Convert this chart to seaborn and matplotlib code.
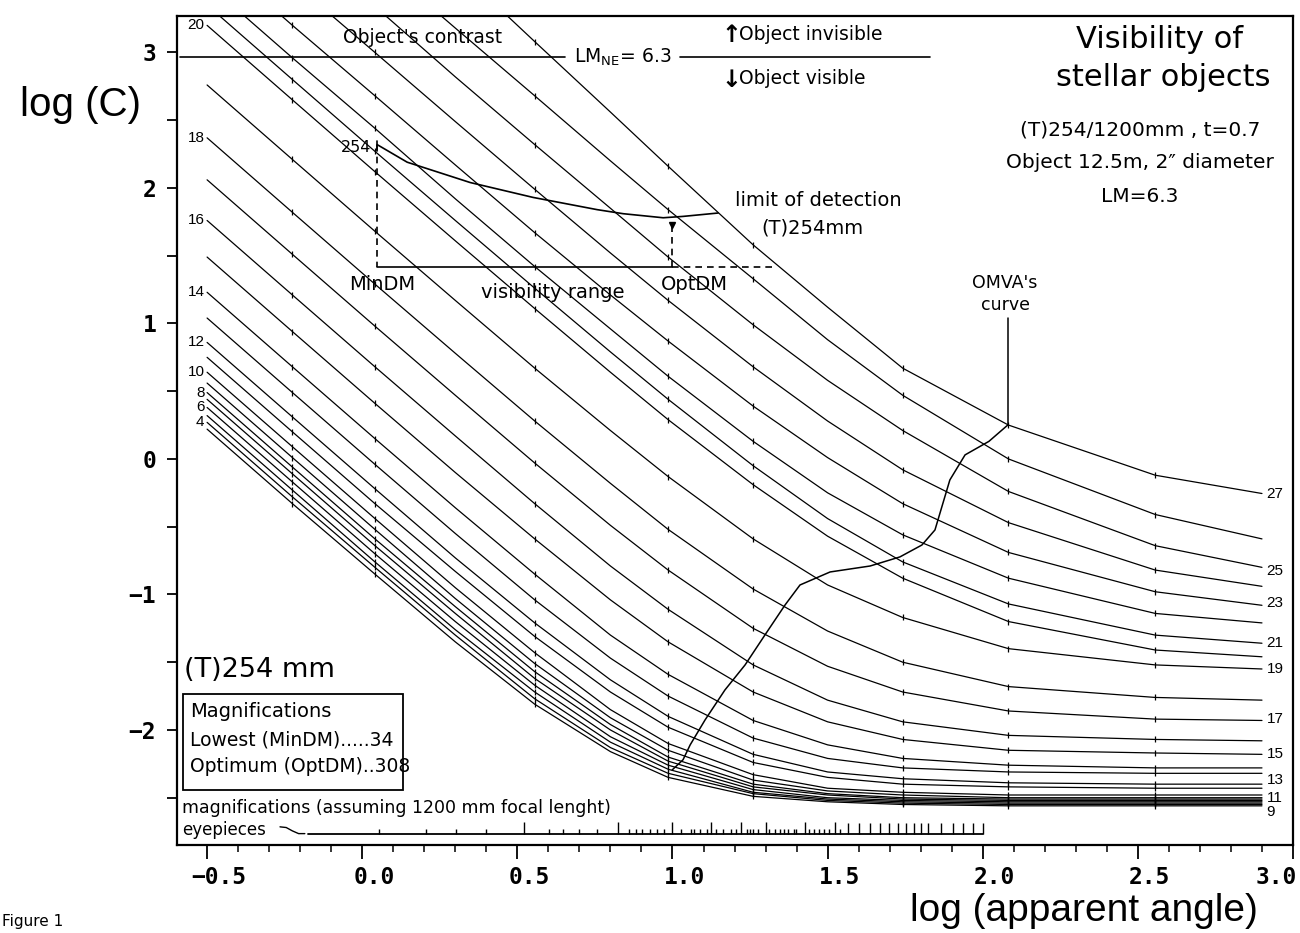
import numpy as np
import pandas as pd
import matplotlib
matplotlib.use("Agg")
import matplotlib.pyplot as plt
import matplotlib.transforms as mtransforms
import seaborn as sns
from matplotlib.patches import Rectangle

# ---------------- data ----------------
ANGLE_X = [-0.5, -0.225, 0.041, 0.3, 0.556, 0.8, 0.986, 1.26, 1.5, 1.742, 2.083, 2.556, 2.9]
MARK_X = [-0.225, 0.041, 0.556, 0.986, 1.26, 1.742, 2.083, 2.556]

C03 = [0.22, -0.33, -0.85, -1.35, -1.81, -2.16, -2.35, -2.49, -2.53, -2.55, -2.56, -2.56, -2.56]
C04 = [0.27, -0.28, -0.80, -1.30, -1.77, -2.13, -2.32, -2.47, -2.52, -2.54, -2.55, -2.55, -2.55]
C05 = [0.32, -0.23, -0.76, -1.26, -1.72, -2.09, -2.29, -2.46, -2.51, -2.53, -2.54, -2.54, -2.54]
C06 = [0.38, -0.17, -0.70, -1.20, -1.67, -2.05, -2.26, -2.44, -2.50, -2.52, -2.53, -2.53, -2.53]
C07 = [0.44, -0.11, -0.64, -1.14, -1.62, -2.00, -2.23, -2.42, -2.48, -2.51, -2.52, -2.52, -2.52]
C08 = [0.49, -0.06, -0.59, -1.09, -1.57, -1.96, -2.20, -2.40, -2.47, -2.50, -2.51, -2.51, -2.51]
C09 = [0.56, 0.01, -0.52, -1.03, -1.51, -1.91, -2.15, -2.37, -2.45, -2.48, -2.50, -2.50, -2.50]
C10 = [0.64, 0.09, -0.44, -0.95, -1.43, -1.85, -2.10, -2.33, -2.43, -2.46, -2.48, -2.48, -2.48]
C11 = [0.75, 0.20, -0.33, -0.83, -1.31, -1.72, -1.98, -2.24, -2.35, -2.40, -2.42, -2.43, -2.43]
C12 = [0.86, 0.31, -0.22, -0.73, -1.21, -1.63, -1.90, -2.18, -2.31, -2.36, -2.39, -2.40, -2.40]
C13 = [1.04, 0.49, -0.04, -0.55, -1.04, -1.47, -1.75, -2.06, -2.21, -2.28, -2.31, -2.32, -2.32]
C14 = [1.23, 0.68, 0.15, -0.36, -0.85, -1.30, -1.59, -1.93, -2.11, -2.21, -2.26, -2.28, -2.28]
C15 = [1.49, 0.94, 0.41, -0.10, -0.59, -1.04, -1.35, -1.72, -1.94, -2.07, -2.15, -2.17, -2.18]
C16 = [1.76, 1.21, 0.68, 0.17, -0.33, -0.79, -1.11, -1.52, -1.78, -1.94, -2.04, -2.07, -2.08]
C17 = [2.06, 1.51, 0.98, 0.47, -0.03, -0.49, -0.82, -1.25, -1.53, -1.72, -1.86, -1.92, -1.93]
C18 = [2.37, 1.82, 1.29, 0.78, 0.28, -0.18, -0.52, -0.96, -1.27, -1.50, -1.68, -1.76, -1.78]
C19 = [2.76, 2.21, 1.68, 1.17, 0.67, 0.21, -0.13, -0.59, -0.93, -1.17, -1.40, -1.52, -1.55]
C20 = [3.20, 2.65, 2.12, 1.61, 1.11, 0.64, 0.29, -0.19, -0.57, -0.88, -1.20, -1.41, -1.46]
C21 = [3.35, 2.80, 2.27, 1.76, 1.26, 0.79, 0.44, -0.05, -0.44, -0.76, -1.07, -1.30, -1.36]
C22 = [3.51, 2.96, 2.44, 1.92, 1.42, 0.96, 0.61, 0.13, -0.25, -0.56, -0.88, -1.14, -1.21]
C23 = [3.75, 3.20, 2.68, 2.17, 1.67, 1.21, 0.87, 0.39, 0.01, -0.33, -0.69, -0.98, -1.08]
C24 = [4.07, 3.52, 3.00, 2.49, 1.99, 1.52, 1.17, 0.68, 0.28, -0.08, -0.47, -0.82, -0.94]
C25 = [4.41, 3.86, 3.34, 2.82, 2.32, 1.85, 1.49, 0.99, 0.58, 0.21, -0.24, -0.64, -0.80]
C26 = [4.77, 4.22, 3.69, 3.18, 2.68, 2.20, 1.84, 1.33, 0.88, 0.47, 0.00, -0.41, -0.59]
C27 = [5.25, 4.70, 4.17, 3.63, 3.08, 2.56, 2.16, 1.58, 1.12, 0.67, 0.25, -0.12, -0.255]

CURVE_IDS = list(range(3, 28))
CURVES = [C03, C04, C05, C06, C07, C08, C09, C10, C11, C12, C13, C14, C15,
          C16, C17, C18, C19, C20, C21, C22, C23, C24, C25, C26, C27]

LEFT_LABELS = [4, 6, 8, 10, 12, 14, 16, 18, 20]
RIGHT_LABELS = [27, 25, 23, 21, 19, 17, 15, 13, 11, 9]

LIMIT_X = [0.048, 0.145, 0.348, 0.551, 0.757, 0.841, 0.970, 1.034, 1.147]
LIMIT_Y = [2.32, 2.19, 2.04, 1.93, 1.84, 1.81, 1.78, 1.79, 1.815]

OMVA_X = [2.081, 2.02, 1.943, 1.894, 1.846, 1.804, 1.733, 1.637, 1.508, 1.411,
          1.363, 1.298, 1.234, 1.169, 1.105, 1.057, 1.034, 0.999]
OMVA_Y = [0.251, 0.13, 0.03, -0.155, -0.524, -0.635, -0.723, -0.79, -0.834, -0.93,
          -1.077, -1.299, -1.52, -1.705, -1.926, -2.11, -2.22, -2.295]

CONTRAST_LEVEL = 2.967
MIN_DM = 0.048
OPT_DM = 0.999
RANGE_LEVEL = 1.417
RANGE_END = 1.337

MAG_SHORT = [34, 48, 60, 75, 120, 133, 150, 171, 218, 229, 240, 253, 267, 282, 320,
             343, 353, 369, 387, 414, 436, 462, 480, 522, 533, 545, 564, 615, 640,
             667, 686, 706, 738, 750, 828, 857, 889, 923, 960, 1043]
MAG_TALL = [100, 200, 300, 400, 500, 600, 800, 1000]
MAG_HIGH = [1100, 1200, 1300, 1400, 1500, 1600, 1700, 1800, 1900, 2000, 2200, 2400,
            2600, 2800, 3000]
OBJECT_ARCSEC = 2.0

# ---------------- style ----------------
sns.set_theme(style="ticks")
plt.rcParams['font.family'] = ['DejaVu Sans']
for k in ['text.color', 'axes.labelcolor', 'xtick.color', 'ytick.color', 'axes.edgecolor']:
    plt.rcParams[k] = 'black'
plt.rcParams['axes.linewidth'] = 1.6

W, H = 1300, 933
fig = plt.figure(figsize=(W / 100, H / 100), dpi=100)
fig.patch.set_facecolor('white')
ax = fig.add_axes([177 / W, 1 - 845 / H, (1293 - 177) / W, (845 - 16) / H])
ax.set_facecolor('white')

rows = []
for cid, ys in zip(CURVE_IDS, CURVES):
    for x, y in zip(ANGLE_X, ys):
        rows.append((cid, x, y))
df = pd.DataFrame(rows, columns=['curve', 'log_angle', 'log_c'])

sns.lineplot(data=df, x='log_angle', y='log_c', units='curve', estimator=None,
             sort=False, color='black', linewidth=0.9, ax=ax, legend=False)
marks = df[df['log_angle'].isin(MARK_X)]
sns.scatterplot(data=marks, x='log_angle', y='log_c', marker='|', s=18,
                color='black', linewidth=0.9, ax=ax, legend=False)

ax.set_xlim(-0.597, 3.0)
ax.set_ylim(-2.849, 3.269)
ax.set_xlabel('')
ax.set_ylabel('')

# ticks
ax.set_xticks([-0.5, 0.0, 0.5, 1.0, 1.5, 2.0, 2.5, 3.0])
ax.set_xticklabels(['\u22120.5', '0.0', '0.5', '1.0', '1.5', '2.0', '2.5', '3.0'])
ax.set_xticks(np.arange(-0.5, 3.01, 0.1), minor=True)
ax.set_yticks([-2, -1, 0, 1, 2, 3])
ax.set_yticklabels(['\u22122', '\u22121', '0', '1', '2', '3'])
ax.set_yticks([-2.5, -1.5, -0.5, 0.5, 1.5, 2.5], minor=True)
ax.tick_params(axis='x', which='major', length=10, width=1.3, direction='out', pad=5)
ax.tick_params(axis='x', which='minor', length=5, width=1.1, direction='out')
ax.tick_params(axis='y', which='both', length=7, width=1.3, direction='out', pad=8)
for lab in ax.get_xticklabels() + ax.get_yticklabels():
    lab.set_fontfamily('DejaVu Sans Mono')
    lab.set_fontweight('bold')
    lab.set_fontsize(16.5)
xlabs = ax.get_xticklabels()
for lab in xlabs[:-1]:
    lab.set_transform(lab.get_transform() + mtransforms.ScaledTranslation(0.12, 0, fig.dpi_scale_trans))
xlabs[-1].set_horizontalalignment('right')
xlabs[-1].set_transform(xlabs[-1].get_transform() + mtransforms.ScaledTranslation(0.04, 0, fig.dpi_scale_trans))
for s in ax.spines.values():
    s.set_visible(True)
    s.set_linewidth(1.6)

# curve labels
lab_font = dict(fontsize=11, color='black', family=['Liberation Sans', 'DejaVu Sans'])
for cid in LEFT_LABELS:
    y0 = CURVES[CURVE_IDS.index(cid)][0]
    ax.text(-0.508, y0, str(cid), ha='right', va='center', **lab_font)
right_label_y = {27: -0.255, 25: -0.83, 23: -1.065, 21: -1.36, 19: -1.55,
                 17: -1.92, 15: -2.18, 13: -2.37, 11: -2.50, 9: -2.605}
for cid in RIGHT_LABELS:
    ax.text(2.915, right_label_y[cid], str(cid), ha='left', va='center', **lab_font)

# object's contrast line
ax.plot([-0.587, 0.655], [CONTRAST_LEVEL] * 2, color='black', lw=1.2)
ax.plot([1.024, 1.83], [CONTRAST_LEVEL] * 2, color='black', lw=1.2)
ax.text(0.193, 3.107, "Object's contrast", ha='center', va='center', fontsize=13.5)
ax.text(0.84, CONTRAST_LEVEL, r"LM$_{\mathregular{NE}}$= 6.3", ha='center', va='center', fontsize=13.5)
ax.text(1.19, 3.13, "\u2191", ha='center', va='center', fontsize=17, fontweight='bold')
ax.text(1.215, 3.13, "Object invisible", ha='left', va='center', fontsize=13.5)
ax.text(1.19, 2.80, "\u2193", ha='center', va='center', fontsize=17, fontweight='bold')
ax.text(1.215, 2.81, "Object visible", ha='left', va='center', fontsize=13.5)

# limit of detection and visibility range
ax.plot(LIMIT_X, LIMIT_Y, color='black', lw=1.2)
ax.plot([MIN_DM, MIN_DM], [LIMIT_Y[0] + 0.03, LIMIT_Y[0] - 0.04], color='black', lw=1.2)
ax.text(0.030, 2.30, "254", ha='right', va='center', fontsize=11.5)
ax.plot([MIN_DM, MIN_DM], [LIMIT_Y[0], RANGE_LEVEL], color='black', lw=1.2, ls=(0, (4, 3)))
ax.plot([MIN_DM, OPT_DM], [RANGE_LEVEL] * 2, color='black', lw=1.2)
ax.plot([OPT_DM, RANGE_END], [RANGE_LEVEL] * 2, color='black', lw=1.2, ls=(0, (4, 3)))
ax.plot([OPT_DM, OPT_DM], [RANGE_LEVEL, 1.73], color='black', lw=1.2, ls=(0, (4, 3)))
ax.plot([OPT_DM], [1.73], marker='v', ms=4, color='black')
ax.text(0.064, 1.284, "MinDM", ha='center', va='center', fontsize=14)
ax.text(0.615, 1.232, "visibility range", ha='center', va='center', fontsize=14)
ax.text(1.069, 1.284, "OptDM", ha='center', va='center', fontsize=14)
ax.text(1.469, 1.904, "limit of detection", ha='center', va='center', fontsize=14)
ax.text(1.45, 1.705, "(T)254mm", ha='center', va='center', fontsize=14)

# OMVA curve
ax.plot(OMVA_X, OMVA_Y, color='black', lw=1.1)
ax.plot([OMVA_X[0], OMVA_X[0]], [OMVA_Y[0], 1.04], color='black', lw=1.1)
ax.text(2.072, 1.30, "OMVA's", ha='center', va='center', fontsize=12.5)
ax.text(2.072, 1.137, "curve", ha='center', va='center', fontsize=12.5)

# lower-left block
ax.text(-0.575, -1.557, "(T)254 mm", ha='left', va='center', fontsize=19.5)
ax.add_patch(Rectangle((-0.577, -2.443), 0.709, 0.708, facecolor='white',
                       edgecolor='black', lw=1.3, zorder=3))
ax.text(-0.555, -1.867, "Magnifications", ha='left', va='center', fontsize=14, zorder=4)
ax.text(-0.555, -2.074, "Lowest (MinDM).....34", ha='left', va='center', fontsize=13.5, zorder=4)
ax.text(-0.555, -2.273, "Optimum (OptDM)..308", ha='left', va='center', fontsize=13.5, zorder=4)

# magnification ruler
ax.text(-0.581, -2.576, "magnifications (assuming 1200 mm focal lenght)", ha='left',
        va='center', fontsize=12.5)
ax.text(-0.581, -2.735, "eyepieces", ha='left', va='center', fontsize=12)
ruler_y = -2.768
ax.plot([-0.265, -0.245, -0.225, -0.205, -0.185], [-2.715, -2.72, -2.745, -2.765, -2.765],
        color='black', lw=1.0)
ax.plot([-0.175, 2.0], [ruler_y, ruler_y], color='black', lw=1.3)
arcmin = OBJECT_ARCSEC / 60.0
ax.vlines(np.log10(np.array(MAG_SHORT) * arcmin), ruler_y, ruler_y + 0.04, color='black', lw=1.0)
ax.vlines(np.log10(np.array(MAG_TALL) * arcmin), ruler_y, ruler_y + 0.09, color='black', lw=1.0)
ax.vlines(np.log10(np.array(MAG_HIGH) * arcmin), ruler_y, ruler_y + 0.08, color='black', lw=1.0)

# figure-level texts
fig.text(1160 / W, 1 - 40 / H, "Visibility of", ha='center', va='center', fontsize=22)
fig.text(1163 / W, 1 - 78 / H, "stellar objects", ha='center', va='center', fontsize=22)
fig.text(1140 / W, 1 - 130 / H, "(T)254/1200mm , t=0.7", ha='center', va='center', fontsize=14.5)
fig.text(1140 / W, 1 - 163 / H, "Object 12.5m, 2\u2033 diameter", ha='center', va='center', fontsize=14.5)
fig.text(1140 / W, 1 - 196 / H, "LM=6.3", ha='center', va='center', fontsize=14.5)
fig.text(80 / W, 1 - 105 / H, "log (C)", ha='center', va='center', fontsize=29,
         family=['Liberation Sans', 'DejaVu Sans'])
fig.text(1084 / W, 1 - 929 / H, "log (apparent angle)", ha='center', va='bottom', fontsize=28,
         family=['Liberation Sans', 'DejaVu Sans'])
fig.text(2 / W, 4 / H, "Figure 1", ha='left', va='bottom', fontsize=11)

fig.savefig("out.png", dpi=100, facecolor='white')
